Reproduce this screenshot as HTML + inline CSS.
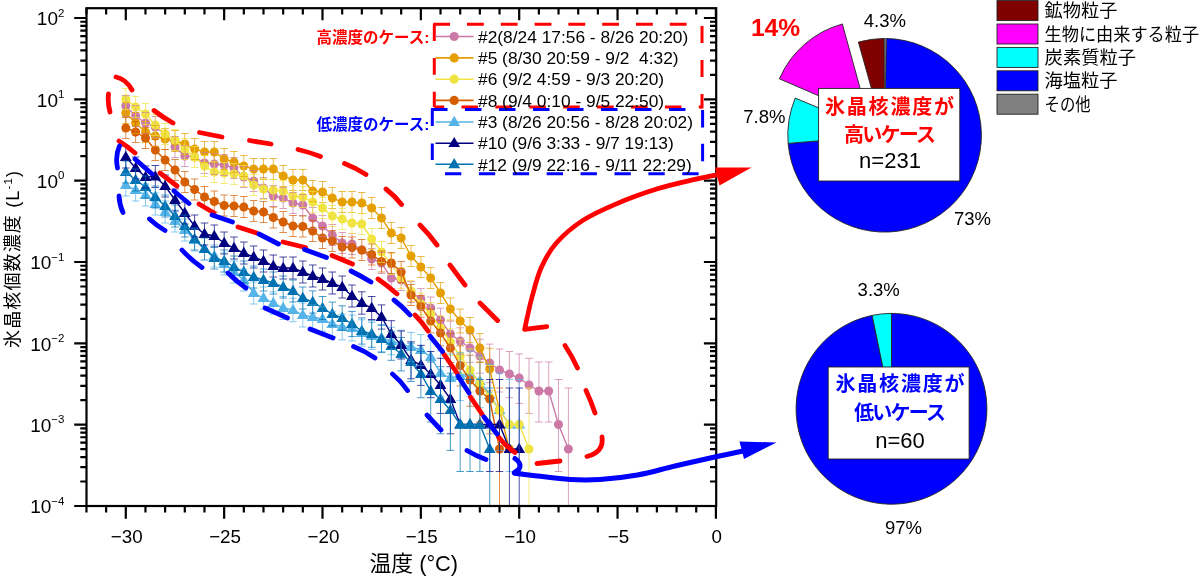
<!DOCTYPE html>
<html lang="ja"><head><meta charset="utf-8"><title>氷晶核個数濃度</title>
<style>html,body{margin:0;padding:0;background:#fff;}svg{display:block;}text{font-family:"Liberation Sans","Noto Sans CJK JP",sans-serif;}</style></head><body>
<svg width="1200" height="576" viewBox="0 0 1200 576">
<rect x="0" y="0" width="1200" height="576" fill="#ffffff"/>
<defs><clipPath id="pc"><rect x="86.5" y="8.2" width="629.7" height="497.8"/></clipPath></defs>
<g clip-path="url(#pc)">
<polyline points="125.8,185.0 135.6,190.0 145.5,195.0 155.3,204.0 165.1,212.0 175.0,221.0 184.8,230.0 194.6,240.0 204.5,249.0 214.3,256.0 224.2,264.0 234.0,272.0 243.8,280.0 253.7,293.0 263.5,298.0 273.3,303.0 283.2,308.0 293.0,310.0 302.8,315.0 312.7,317.0 322.5,319.0 332.3,324.0 342.2,327.0 352.0,328.0 361.8,333.0 371.7,336.0 381.5,338.0 391.3,341.0 401.2,344.0 411.0,347.0 420.9,350.0 430.7,357.0 440.5,373.0 450.4,378.0 460.2,376.0 470.0,373.0 479.9,381.0 489.7,395.0 499.5,410.2 509.4,424.5 519.2,424.5" fill="none" stroke="#56B4E9" stroke-width="1.4"/>
<g fill="#56B4E9"><path d="M125.8 178.8l5.9 10.1h-11.8z"/><path d="M135.6 183.8l5.9 10.1h-11.8z"/><path d="M145.5 188.8l5.9 10.1h-11.8z"/><path d="M155.3 197.8l5.9 10.1h-11.8z"/><path d="M165.1 205.8l5.9 10.1h-11.8z"/><path d="M175.0 214.8l5.9 10.1h-11.8z"/><path d="M184.8 223.8l5.9 10.1h-11.8z"/><path d="M194.6 233.8l5.9 10.1h-11.8z"/><path d="M204.5 242.8l5.9 10.1h-11.8z"/><path d="M214.3 249.8l5.9 10.1h-11.8z"/><path d="M224.2 257.8l5.9 10.1h-11.8z"/><path d="M234.0 265.8l5.9 10.1h-11.8z"/><path d="M243.8 273.8l5.9 10.1h-11.8z"/><path d="M253.7 286.8l5.9 10.1h-11.8z"/><path d="M263.5 291.8l5.9 10.1h-11.8z"/><path d="M273.3 296.8l5.9 10.1h-11.8z"/><path d="M283.2 301.8l5.9 10.1h-11.8z"/><path d="M293.0 303.8l5.9 10.1h-11.8z"/><path d="M302.8 308.8l5.9 10.1h-11.8z"/><path d="M312.7 310.8l5.9 10.1h-11.8z"/><path d="M322.5 312.8l5.9 10.1h-11.8z"/><path d="M332.3 317.8l5.9 10.1h-11.8z"/><path d="M342.2 320.8l5.9 10.1h-11.8z"/><path d="M352.0 321.8l5.9 10.1h-11.8z"/><path d="M361.8 326.8l5.9 10.1h-11.8z"/><path d="M371.7 329.8l5.9 10.1h-11.8z"/><path d="M381.5 331.8l5.9 10.1h-11.8z"/><path d="M391.3 334.8l5.9 10.1h-11.8z"/><path d="M401.2 337.8l5.9 10.1h-11.8z"/><path d="M411.0 340.8l5.9 10.1h-11.8z"/><path d="M420.9 343.8l5.9 10.1h-11.8z"/><path d="M430.7 350.8l5.9 10.1h-11.8z"/><path d="M440.5 366.8l5.9 10.1h-11.8z"/><path d="M450.4 371.8l5.9 10.1h-11.8z"/><path d="M460.2 369.8l5.9 10.1h-11.8z"/><path d="M470.0 366.8l5.9 10.1h-11.8z"/><path d="M479.9 374.8l5.9 10.1h-11.8z"/><path d="M489.7 388.8l5.9 10.1h-11.8z"/><path d="M499.5 404.0l5.9 10.1h-11.8z"/><path d="M509.4 418.3l5.9 10.1h-11.8z"/><path d="M519.2 418.3l5.9 10.1h-11.8z"/></g>
<polyline points="125.8,106.0 135.6,116.0 145.5,123.0 155.3,127.0 165.1,134.0 175.0,147.0 184.8,156.0 194.6,157.0 204.5,163.0 214.3,164.0 224.2,165.0 234.0,168.0 243.8,177.0 253.7,181.0 263.5,188.0 273.3,196.0 283.2,198.0 293.0,203.0 302.8,205.0 312.7,218.0 322.5,226.0 332.3,235.0 342.2,243.0 352.0,244.0 361.8,250.0 371.7,259.0 381.5,263.0 391.3,278.0 401.2,280.0 411.0,292.0 420.9,299.0 430.7,308.0 440.5,320.0 450.4,334.0 460.2,341.0 470.0,348.0 479.9,356.0 489.7,363.0 499.5,370.0 509.4,374.0 519.2,378.0 529.0,385.0 538.9,391.0 548.7,391.0 558.5,424.5 568.4,449.0" fill="none" stroke="#CC79A7" stroke-width="1.4"/>
<g fill="#CC79A7"><circle cx="125.8" cy="106.0" r="4.5"/><circle cx="135.6" cy="116.0" r="4.5"/><circle cx="145.5" cy="123.0" r="4.5"/><circle cx="155.3" cy="127.0" r="4.5"/><circle cx="165.1" cy="134.0" r="4.5"/><circle cx="175.0" cy="147.0" r="4.5"/><circle cx="184.8" cy="156.0" r="4.5"/><circle cx="194.6" cy="157.0" r="4.5"/><circle cx="204.5" cy="163.0" r="4.5"/><circle cx="214.3" cy="164.0" r="4.5"/><circle cx="224.2" cy="165.0" r="4.5"/><circle cx="234.0" cy="168.0" r="4.5"/><circle cx="243.8" cy="177.0" r="4.5"/><circle cx="253.7" cy="181.0" r="4.5"/><circle cx="263.5" cy="188.0" r="4.5"/><circle cx="273.3" cy="196.0" r="4.5"/><circle cx="283.2" cy="198.0" r="4.5"/><circle cx="293.0" cy="203.0" r="4.5"/><circle cx="302.8" cy="205.0" r="4.5"/><circle cx="312.7" cy="218.0" r="4.5"/><circle cx="322.5" cy="226.0" r="4.5"/><circle cx="332.3" cy="235.0" r="4.5"/><circle cx="342.2" cy="243.0" r="4.5"/><circle cx="352.0" cy="244.0" r="4.5"/><circle cx="361.8" cy="250.0" r="4.5"/><circle cx="371.7" cy="259.0" r="4.5"/><circle cx="381.5" cy="263.0" r="4.5"/><circle cx="391.3" cy="278.0" r="4.5"/><circle cx="401.2" cy="280.0" r="4.5"/><circle cx="411.0" cy="292.0" r="4.5"/><circle cx="420.9" cy="299.0" r="4.5"/><circle cx="430.7" cy="308.0" r="4.5"/><circle cx="440.5" cy="320.0" r="4.5"/><circle cx="450.4" cy="334.0" r="4.5"/><circle cx="460.2" cy="341.0" r="4.5"/><circle cx="470.0" cy="348.0" r="4.5"/><circle cx="479.9" cy="356.0" r="4.5"/><circle cx="489.7" cy="363.0" r="4.5"/><circle cx="499.5" cy="370.0" r="4.5"/><circle cx="509.4" cy="374.0" r="4.5"/><circle cx="519.2" cy="378.0" r="4.5"/><circle cx="529.0" cy="385.0" r="4.5"/><circle cx="538.9" cy="391.0" r="4.5"/><circle cx="548.7" cy="391.0" r="4.5"/><circle cx="558.5" cy="424.5" r="4.5"/><circle cx="568.4" cy="449.0" r="4.5"/></g>
<polyline points="125.8,113.0 135.6,123.0 145.5,132.0 155.3,136.0 165.1,139.0 175.0,141.0 184.8,144.0 194.6,149.0 204.5,152.0 214.3,152.0 224.2,159.0 234.0,162.0 243.8,166.0 253.7,169.0 263.5,169.0 273.3,169.0 283.2,176.0 293.0,180.0 302.8,180.0 312.7,191.0 322.5,192.0 332.3,198.0 342.2,202.0 352.0,202.0 361.8,203.0 371.7,208.0 381.5,218.0 391.3,233.0 401.2,238.0 411.0,256.0 420.9,267.0 430.7,278.0 440.5,293.0 450.4,309.0 460.2,321.0 470.0,330.0 479.9,348.0 489.7,369.0 499.5,410.2 509.4,449.0" fill="none" stroke="#E69F00" stroke-width="1.4"/>
<g fill="#E69F00"><circle cx="125.8" cy="113.0" r="4.5"/><circle cx="135.6" cy="123.0" r="4.5"/><circle cx="145.5" cy="132.0" r="4.5"/><circle cx="155.3" cy="136.0" r="4.5"/><circle cx="165.1" cy="139.0" r="4.5"/><circle cx="175.0" cy="141.0" r="4.5"/><circle cx="184.8" cy="144.0" r="4.5"/><circle cx="194.6" cy="149.0" r="4.5"/><circle cx="204.5" cy="152.0" r="4.5"/><circle cx="214.3" cy="152.0" r="4.5"/><circle cx="224.2" cy="159.0" r="4.5"/><circle cx="234.0" cy="162.0" r="4.5"/><circle cx="243.8" cy="166.0" r="4.5"/><circle cx="253.7" cy="169.0" r="4.5"/><circle cx="263.5" cy="169.0" r="4.5"/><circle cx="273.3" cy="169.0" r="4.5"/><circle cx="283.2" cy="176.0" r="4.5"/><circle cx="293.0" cy="180.0" r="4.5"/><circle cx="302.8" cy="180.0" r="4.5"/><circle cx="312.7" cy="191.0" r="4.5"/><circle cx="322.5" cy="192.0" r="4.5"/><circle cx="332.3" cy="198.0" r="4.5"/><circle cx="342.2" cy="202.0" r="4.5"/><circle cx="352.0" cy="202.0" r="4.5"/><circle cx="361.8" cy="203.0" r="4.5"/><circle cx="371.7" cy="208.0" r="4.5"/><circle cx="381.5" cy="218.0" r="4.5"/><circle cx="391.3" cy="233.0" r="4.5"/><circle cx="401.2" cy="238.0" r="4.5"/><circle cx="411.0" cy="256.0" r="4.5"/><circle cx="420.9" cy="267.0" r="4.5"/><circle cx="430.7" cy="278.0" r="4.5"/><circle cx="440.5" cy="293.0" r="4.5"/><circle cx="450.4" cy="309.0" r="4.5"/><circle cx="460.2" cy="321.0" r="4.5"/><circle cx="470.0" cy="330.0" r="4.5"/><circle cx="479.9" cy="348.0" r="4.5"/><circle cx="489.7" cy="369.0" r="4.5"/><circle cx="499.5" cy="410.2" r="4.5"/><circle cx="509.4" cy="449.0" r="4.5"/></g>
<polyline points="125.8,99.0 135.6,107.0 145.5,114.0 155.3,125.0 165.1,134.0 175.0,140.0 184.8,149.0 194.6,157.0 204.5,166.0 214.3,172.0 224.2,173.0 234.0,174.0 243.8,176.0 253.7,185.0 263.5,189.0 273.3,190.0 283.2,191.0 293.0,196.0 302.8,197.0 312.7,202.0 322.5,208.0 332.3,216.0 342.2,219.0 352.0,223.0 361.8,224.0 371.7,239.0 381.5,252.0 391.3,264.0 401.2,278.0 411.0,291.0 420.9,304.0 430.7,314.0 440.5,328.0 450.4,342.0 460.2,356.0 470.0,370.0 479.9,384.0 489.7,397.0 499.5,410.2 509.4,424.5 519.2,424.5 529.0,449.0" fill="none" stroke="#F0E442" stroke-width="1.4"/>
<g fill="#F0E442"><circle cx="125.8" cy="99.0" r="4.5"/><circle cx="135.6" cy="107.0" r="4.5"/><circle cx="145.5" cy="114.0" r="4.5"/><circle cx="155.3" cy="125.0" r="4.5"/><circle cx="165.1" cy="134.0" r="4.5"/><circle cx="175.0" cy="140.0" r="4.5"/><circle cx="184.8" cy="149.0" r="4.5"/><circle cx="194.6" cy="157.0" r="4.5"/><circle cx="204.5" cy="166.0" r="4.5"/><circle cx="214.3" cy="172.0" r="4.5"/><circle cx="224.2" cy="173.0" r="4.5"/><circle cx="234.0" cy="174.0" r="4.5"/><circle cx="243.8" cy="176.0" r="4.5"/><circle cx="253.7" cy="185.0" r="4.5"/><circle cx="263.5" cy="189.0" r="4.5"/><circle cx="273.3" cy="190.0" r="4.5"/><circle cx="283.2" cy="191.0" r="4.5"/><circle cx="293.0" cy="196.0" r="4.5"/><circle cx="302.8" cy="197.0" r="4.5"/><circle cx="312.7" cy="202.0" r="4.5"/><circle cx="322.5" cy="208.0" r="4.5"/><circle cx="332.3" cy="216.0" r="4.5"/><circle cx="342.2" cy="219.0" r="4.5"/><circle cx="352.0" cy="223.0" r="4.5"/><circle cx="361.8" cy="224.0" r="4.5"/><circle cx="371.7" cy="239.0" r="4.5"/><circle cx="381.5" cy="252.0" r="4.5"/><circle cx="391.3" cy="264.0" r="4.5"/><circle cx="401.2" cy="278.0" r="4.5"/><circle cx="411.0" cy="291.0" r="4.5"/><circle cx="420.9" cy="304.0" r="4.5"/><circle cx="430.7" cy="314.0" r="4.5"/><circle cx="440.5" cy="328.0" r="4.5"/><circle cx="450.4" cy="342.0" r="4.5"/><circle cx="460.2" cy="356.0" r="4.5"/><circle cx="470.0" cy="370.0" r="4.5"/><circle cx="479.9" cy="384.0" r="4.5"/><circle cx="489.7" cy="397.0" r="4.5"/><circle cx="499.5" cy="410.2" r="4.5"/><circle cx="509.4" cy="424.5" r="4.5"/><circle cx="519.2" cy="424.5" r="4.5"/><circle cx="529.0" cy="449.0" r="4.5"/></g>
<polyline points="125.8,128.0 135.6,132.0 145.5,138.0 155.3,150.0 165.1,160.0 175.0,170.0 184.8,182.0 194.6,189.5 204.5,197.0 214.3,201.5 224.2,205.5 234.0,206.0 243.8,207.0 253.7,211.0 263.5,212.0 273.3,217.5 283.2,222.0 293.0,226.0 302.8,226.5 312.7,231.0 322.5,238.0 332.3,241.0 342.2,247.0 352.0,247.5 361.8,250.0 371.7,254.5 381.5,261.5 391.3,263.0 401.2,272.0 411.0,295.0 420.9,306.5 430.7,321.0 440.5,333.0 450.4,348.0 460.2,365.5 470.0,380.0 479.9,391.0 489.7,399.0 499.5,449.0" fill="none" stroke="#D55E00" stroke-width="1.4"/>
<g fill="#D55E00"><circle cx="125.8" cy="128.0" r="4.5"/><circle cx="135.6" cy="132.0" r="4.5"/><circle cx="145.5" cy="138.0" r="4.5"/><circle cx="155.3" cy="150.0" r="4.5"/><circle cx="165.1" cy="160.0" r="4.5"/><circle cx="175.0" cy="170.0" r="4.5"/><circle cx="184.8" cy="182.0" r="4.5"/><circle cx="194.6" cy="189.5" r="4.5"/><circle cx="204.5" cy="197.0" r="4.5"/><circle cx="214.3" cy="201.5" r="4.5"/><circle cx="224.2" cy="205.5" r="4.5"/><circle cx="234.0" cy="206.0" r="4.5"/><circle cx="243.8" cy="207.0" r="4.5"/><circle cx="253.7" cy="211.0" r="4.5"/><circle cx="263.5" cy="212.0" r="4.5"/><circle cx="273.3" cy="217.5" r="4.5"/><circle cx="283.2" cy="222.0" r="4.5"/><circle cx="293.0" cy="226.0" r="4.5"/><circle cx="302.8" cy="226.5" r="4.5"/><circle cx="312.7" cy="231.0" r="4.5"/><circle cx="322.5" cy="238.0" r="4.5"/><circle cx="332.3" cy="241.0" r="4.5"/><circle cx="342.2" cy="247.0" r="4.5"/><circle cx="352.0" cy="247.5" r="4.5"/><circle cx="361.8" cy="250.0" r="4.5"/><circle cx="371.7" cy="254.5" r="4.5"/><circle cx="381.5" cy="261.5" r="4.5"/><circle cx="391.3" cy="263.0" r="4.5"/><circle cx="401.2" cy="272.0" r="4.5"/><circle cx="411.0" cy="295.0" r="4.5"/><circle cx="420.9" cy="306.5" r="4.5"/><circle cx="430.7" cy="321.0" r="4.5"/><circle cx="440.5" cy="333.0" r="4.5"/><circle cx="450.4" cy="348.0" r="4.5"/><circle cx="460.2" cy="365.5" r="4.5"/><circle cx="470.0" cy="380.0" r="4.5"/><circle cx="479.9" cy="391.0" r="4.5"/><circle cx="489.7" cy="399.0" r="4.5"/><circle cx="499.5" cy="449.0" r="4.5"/></g>
<polyline points="125.8,157.0 135.6,168.0 145.5,177.0 155.3,176.5 165.1,186.0 175.0,200.0 184.8,213.0 194.6,226.0 204.5,234.0 214.3,236.0 224.2,243.0 234.0,248.0 243.8,253.0 253.7,257.0 263.5,261.0 273.3,266.0 283.2,268.0 293.0,268.0 302.8,272.0 312.7,276.0 322.5,279.0 332.3,283.0 342.2,287.0 352.0,296.0 361.8,303.0 371.7,308.0 381.5,317.0 391.3,334.0 401.2,345.0 411.0,360.0 420.9,365.0 430.7,374.0 440.5,385.0 450.4,399.0 460.2,424.5 470.0,424.5 479.9,424.5 489.7,424.5 499.5,424.5 509.4,449.0 519.2,449.0" fill="none" stroke="#000080" stroke-width="1.4"/>
<g fill="#000080"><path d="M125.8 150.8l5.9 10.1h-11.8z"/><path d="M135.6 161.8l5.9 10.1h-11.8z"/><path d="M145.5 170.8l5.9 10.1h-11.8z"/><path d="M155.3 170.3l5.9 10.1h-11.8z"/><path d="M165.1 179.8l5.9 10.1h-11.8z"/><path d="M175.0 193.8l5.9 10.1h-11.8z"/><path d="M184.8 206.8l5.9 10.1h-11.8z"/><path d="M194.6 219.8l5.9 10.1h-11.8z"/><path d="M204.5 227.8l5.9 10.1h-11.8z"/><path d="M214.3 229.8l5.9 10.1h-11.8z"/><path d="M224.2 236.8l5.9 10.1h-11.8z"/><path d="M234.0 241.8l5.9 10.1h-11.8z"/><path d="M243.8 246.8l5.9 10.1h-11.8z"/><path d="M253.7 250.8l5.9 10.1h-11.8z"/><path d="M263.5 254.8l5.9 10.1h-11.8z"/><path d="M273.3 259.8l5.9 10.1h-11.8z"/><path d="M283.2 261.8l5.9 10.1h-11.8z"/><path d="M293.0 261.8l5.9 10.1h-11.8z"/><path d="M302.8 265.8l5.9 10.1h-11.8z"/><path d="M312.7 269.8l5.9 10.1h-11.8z"/><path d="M322.5 272.8l5.9 10.1h-11.8z"/><path d="M332.3 276.8l5.9 10.1h-11.8z"/><path d="M342.2 280.8l5.9 10.1h-11.8z"/><path d="M352.0 289.8l5.9 10.1h-11.8z"/><path d="M361.8 296.8l5.9 10.1h-11.8z"/><path d="M371.7 301.8l5.9 10.1h-11.8z"/><path d="M381.5 310.8l5.9 10.1h-11.8z"/><path d="M391.3 327.8l5.9 10.1h-11.8z"/><path d="M401.2 338.8l5.9 10.1h-11.8z"/><path d="M411.0 353.8l5.9 10.1h-11.8z"/><path d="M420.9 358.8l5.9 10.1h-11.8z"/><path d="M430.7 367.8l5.9 10.1h-11.8z"/><path d="M440.5 378.8l5.9 10.1h-11.8z"/><path d="M450.4 392.8l5.9 10.1h-11.8z"/><path d="M460.2 418.3l5.9 10.1h-11.8z"/><path d="M470.0 418.3l5.9 10.1h-11.8z"/><path d="M479.9 418.3l5.9 10.1h-11.8z"/><path d="M489.7 418.3l5.9 10.1h-11.8z"/><path d="M499.5 418.3l5.9 10.1h-11.8z"/><path d="M509.4 442.8l5.9 10.1h-11.8z"/><path d="M519.2 442.8l5.9 10.1h-11.8z"/></g>
<polyline points="125.8,172.0 135.6,180.0 145.5,187.0 155.3,197.0 165.1,206.0 175.0,216.0 184.8,226.0 194.6,239.0 204.5,249.0 214.3,258.0 224.2,261.0 234.0,267.0 243.8,272.0 253.7,277.0 263.5,280.0 273.3,283.0 283.2,287.0 293.0,291.0 302.8,298.0 312.7,302.0 322.5,308.0 332.3,314.0 342.2,318.0 352.0,324.0 361.8,331.0 371.7,334.0 381.5,339.0 391.3,346.0 401.2,354.0 411.0,362.0 420.9,374.0 430.7,391.0 440.5,399.0 450.4,410.2 460.2,424.5 470.0,424.5 479.9,424.5 489.7,449.0" fill="none" stroke="#0072B2" stroke-width="1.4"/>
<g fill="#0072B2"><path d="M125.8 165.8l5.9 10.1h-11.8z"/><path d="M135.6 173.8l5.9 10.1h-11.8z"/><path d="M145.5 180.8l5.9 10.1h-11.8z"/><path d="M155.3 190.8l5.9 10.1h-11.8z"/><path d="M165.1 199.8l5.9 10.1h-11.8z"/><path d="M175.0 209.8l5.9 10.1h-11.8z"/><path d="M184.8 219.8l5.9 10.1h-11.8z"/><path d="M194.6 232.8l5.9 10.1h-11.8z"/><path d="M204.5 242.8l5.9 10.1h-11.8z"/><path d="M214.3 251.8l5.9 10.1h-11.8z"/><path d="M224.2 254.8l5.9 10.1h-11.8z"/><path d="M234.0 260.8l5.9 10.1h-11.8z"/><path d="M243.8 265.8l5.9 10.1h-11.8z"/><path d="M253.7 270.8l5.9 10.1h-11.8z"/><path d="M263.5 273.8l5.9 10.1h-11.8z"/><path d="M273.3 276.8l5.9 10.1h-11.8z"/><path d="M283.2 280.8l5.9 10.1h-11.8z"/><path d="M293.0 284.8l5.9 10.1h-11.8z"/><path d="M302.8 291.8l5.9 10.1h-11.8z"/><path d="M312.7 295.8l5.9 10.1h-11.8z"/><path d="M322.5 301.8l5.9 10.1h-11.8z"/><path d="M332.3 307.8l5.9 10.1h-11.8z"/><path d="M342.2 311.8l5.9 10.1h-11.8z"/><path d="M352.0 317.8l5.9 10.1h-11.8z"/><path d="M361.8 324.8l5.9 10.1h-11.8z"/><path d="M371.7 327.8l5.9 10.1h-11.8z"/><path d="M381.5 332.8l5.9 10.1h-11.8z"/><path d="M391.3 339.8l5.9 10.1h-11.8z"/><path d="M401.2 347.8l5.9 10.1h-11.8z"/><path d="M411.0 355.8l5.9 10.1h-11.8z"/><path d="M420.9 367.8l5.9 10.1h-11.8z"/><path d="M430.7 384.8l5.9 10.1h-11.8z"/><path d="M440.5 392.8l5.9 10.1h-11.8z"/><path d="M450.4 404.0l5.9 10.1h-11.8z"/><path d="M460.2 418.3l5.9 10.1h-11.8z"/><path d="M470.0 418.3l5.9 10.1h-11.8z"/><path d="M479.9 418.3l5.9 10.1h-11.8z"/><path d="M489.7 442.8l5.9 10.1h-11.8z"/></g>
<path d="M125.8 95.5V116.5M122.0 95.5h7.6M122.0 116.5h7.6M135.6 105.5V126.5M131.8 105.5h7.6M131.8 126.5h7.6M145.5 112.5V133.5M141.7 112.5h7.6M141.7 133.5h7.6M155.3 116.5V137.5M151.5 116.5h7.6M151.5 137.5h7.6M175.0 136.5V157.5M171.2 136.5h7.6M171.2 157.5h7.6M184.8 145.5V166.5M181.0 145.5h7.6M181.0 166.5h7.6M204.5 152.5V173.5M200.7 152.5h7.6M200.7 173.5h7.6M214.3 153.5V174.5M210.5 153.5h7.6M210.5 174.5h7.6M224.2 154.5V175.5M220.3 154.5h7.6M220.3 175.5h7.6M234.0 157.5V178.5M230.2 157.5h7.6M230.2 178.5h7.6M243.8 166.5V187.5M240.0 166.5h7.6M240.0 187.5h7.6M253.7 170.5V191.5M249.9 170.5h7.6M249.9 191.5h7.6M263.5 177.5V198.5M259.7 177.5h7.6M259.7 198.5h7.6M273.3 185.5V206.5M269.5 185.5h7.6M269.5 206.5h7.6M283.2 187.5V208.5M279.4 187.5h7.6M279.4 208.5h7.6M293.0 192.5V213.5M289.2 192.5h7.6M289.2 213.5h7.6M302.8 194.5V215.5M299.0 194.5h7.6M299.0 215.5h7.6M312.7 207.5V228.5M308.9 207.5h7.6M308.9 228.5h7.6M322.5 215.5V236.5M318.7 215.5h7.6M318.7 236.5h7.6M332.3 224.5V245.5M328.5 224.5h7.6M328.5 245.5h7.6M342.2 232.5V253.5M338.4 232.5h7.6M338.4 253.5h7.6M352.0 233.5V254.5M348.2 233.5h7.6M348.2 254.5h7.6M371.7 248.5V269.5M367.9 248.5h7.6M367.9 269.5h7.6M381.5 252.5V273.5M377.7 252.5h7.6M377.7 273.5h7.6M391.3 267.5V288.5M387.5 267.5h7.6M387.5 288.5h7.6M401.2 269.5V290.5M397.4 269.5h7.6M397.4 290.5h7.6M411.0 281.5V302.5M407.2 281.5h7.6M407.2 302.5h7.6M420.9 288.5V309.5M417.1 288.5h7.6M417.1 309.5h7.6M430.7 297.0V319.0M426.9 297.0h7.6M426.9 319.0h7.6M440.5 308.2V331.8M436.7 308.2h7.6M436.7 331.8h7.6M450.4 321.2V346.8M446.6 321.2h7.6M446.6 346.8h7.6M460.2 327.8V354.2M456.4 327.8h7.6M456.4 354.2h7.6M470.0 333.6V362.5M466.2 333.6h7.6M466.2 362.5h7.6M479.9 339.2V373.2M476.1 339.2h7.6M476.1 373.2h7.6M489.7 344.1V382.6M485.9 344.1h7.6M485.9 382.6h7.6M499.5 349.0V392.0M495.7 349.0h7.6M495.7 392.0h7.6M509.4 351.5V397.7M505.6 351.5h7.6M505.6 397.7h7.6M519.2 354.0V403.4M515.4 354.0h7.6M515.4 403.4h7.6M529.0 358.3V413.4M525.2 358.3h7.6M525.2 413.4h7.6M538.9 362.0V422.0M535.1 362.0h7.6M535.1 422.0h7.6M548.7 362.0V422.0M544.9 362.0h7.6M544.9 422.0h7.6M558.5 379.5V471.5M554.7 379.5h7.6M554.7 471.5h7.6M568.4 388.0V506.0M564.6 388.0h7.6" fill="none" stroke="#CC79A7" stroke-width="1" stroke-opacity="0.7"/>
<path d="M125.8 102.5V123.5M122.0 102.5h7.6M122.0 123.5h7.6M135.6 112.5V133.5M131.8 112.5h7.6M131.8 133.5h7.6M145.5 121.5V142.5M141.7 121.5h7.6M141.7 142.5h7.6M155.3 125.5V146.5M151.5 125.5h7.6M151.5 146.5h7.6M165.1 128.5V149.5M161.3 128.5h7.6M161.3 149.5h7.6M175.0 130.5V151.5M171.2 130.5h7.6M171.2 151.5h7.6M184.8 133.5V154.5M181.0 133.5h7.6M181.0 154.5h7.6M194.6 138.5V159.5M190.8 138.5h7.6M190.8 159.5h7.6M204.5 141.5V162.5M200.7 141.5h7.6M200.7 162.5h7.6M214.3 141.5V162.5M210.5 141.5h7.6M210.5 162.5h7.6M224.2 148.5V169.5M220.3 148.5h7.6M220.3 169.5h7.6M234.0 151.5V172.5M230.2 151.5h7.6M230.2 172.5h7.6M243.8 155.5V176.5M240.0 155.5h7.6M240.0 176.5h7.6M253.7 158.5V179.5M249.9 158.5h7.6M249.9 179.5h7.6M263.5 158.5V179.5M259.7 158.5h7.6M259.7 179.5h7.6M273.3 158.5V179.5M269.5 158.5h7.6M269.5 179.5h7.6M283.2 165.5V186.5M279.4 165.5h7.6M279.4 186.5h7.6M293.0 169.5V190.5M289.2 169.5h7.6M289.2 190.5h7.6M302.8 169.5V190.5M299.0 169.5h7.6M299.0 190.5h7.6M312.7 180.5V201.5M308.9 180.5h7.6M308.9 201.5h7.6M322.5 181.5V202.5M318.7 181.5h7.6M318.7 202.5h7.6M332.3 187.5V208.5M328.5 187.5h7.6M328.5 208.5h7.6M342.2 191.5V212.5M338.4 191.5h7.6M338.4 212.5h7.6M352.0 191.5V212.5M348.2 191.5h7.6M348.2 212.5h7.6M361.8 192.5V213.5M358.0 192.5h7.6M358.0 213.5h7.6M371.7 197.5V218.5M367.9 197.5h7.6M367.9 218.5h7.6M381.5 207.5V228.5M377.7 207.5h7.6M377.7 228.5h7.6M391.3 222.5V243.5M387.5 222.5h7.6M387.5 243.5h7.6M401.2 227.5V248.5M397.4 227.5h7.6M397.4 248.5h7.6M411.0 245.5V266.5M407.2 245.5h7.6M407.2 266.5h7.6M420.9 256.5V277.5M417.1 256.5h7.6M417.1 277.5h7.6M430.7 267.5V288.5M426.9 267.5h7.6M426.9 288.5h7.6M440.5 282.5V303.5M436.7 282.5h7.6M436.7 303.5h7.6M450.4 297.9V320.1M446.6 297.9h7.6M446.6 320.1h7.6M460.2 309.1V332.9M456.4 309.1h7.6M456.4 332.9h7.6M470.0 317.5V342.5M466.2 317.5h7.6M466.2 342.5h7.6M479.9 333.6V362.5M476.1 333.6h7.6M476.1 362.5h7.6M489.7 348.3V390.7M485.9 348.3h7.6M485.9 390.7h7.6" fill="none" stroke="#E69F00" stroke-width="1" stroke-opacity="0.7"/>
<path d="M125.8 88.5V109.5M122.0 88.5h7.6M122.0 109.5h7.6M135.6 96.5V117.5M131.8 96.5h7.6M131.8 117.5h7.6M145.5 103.5V124.5M141.7 103.5h7.6M141.7 124.5h7.6M155.3 114.5V135.5M151.5 114.5h7.6M151.5 135.5h7.6M165.1 123.5V144.5M161.3 123.5h7.6M161.3 144.5h7.6M175.0 129.5V150.5M171.2 129.5h7.6M171.2 150.5h7.6M184.8 138.5V159.5M181.0 138.5h7.6M181.0 159.5h7.6M194.6 146.5V167.5M190.8 146.5h7.6M190.8 167.5h7.6M204.5 155.5V176.5M200.7 155.5h7.6M200.7 176.5h7.6M214.3 161.5V182.5M210.5 161.5h7.6M210.5 182.5h7.6M224.2 162.5V183.5M220.3 162.5h7.6M220.3 183.5h7.6M234.0 163.5V184.5M230.2 163.5h7.6M230.2 184.5h7.6M243.8 165.5V186.5M240.0 165.5h7.6M240.0 186.5h7.6M253.7 174.5V195.5M249.9 174.5h7.6M249.9 195.5h7.6M263.5 178.5V199.5M259.7 178.5h7.6M259.7 199.5h7.6M273.3 179.5V200.5M269.5 179.5h7.6M269.5 200.5h7.6M283.2 180.5V201.5M279.4 180.5h7.6M279.4 201.5h7.6M293.0 185.5V206.5M289.2 185.5h7.6M289.2 206.5h7.6M302.8 186.5V207.5M299.0 186.5h7.6M299.0 207.5h7.6M312.7 191.5V212.5M308.9 191.5h7.6M308.9 212.5h7.6M322.5 197.5V218.5M318.7 197.5h7.6M318.7 218.5h7.6M332.3 205.5V226.5M328.5 205.5h7.6M328.5 226.5h7.6M342.2 208.5V229.5M338.4 208.5h7.6M338.4 229.5h7.6M352.0 212.5V233.5M348.2 212.5h7.6M348.2 233.5h7.6M361.8 213.5V234.5M358.0 213.5h7.6M358.0 234.5h7.6M371.7 228.5V249.5M367.9 228.5h7.6M367.9 249.5h7.6M381.5 241.5V262.5M377.7 241.5h7.6M377.7 262.5h7.6M391.3 253.5V274.5M387.5 253.5h7.6M387.5 274.5h7.6M401.2 267.5V288.5M397.4 267.5h7.6M397.4 288.5h7.6M411.0 280.5V301.5M407.2 280.5h7.6M407.2 301.5h7.6M420.9 293.2V314.8M417.1 293.2h7.6M417.1 314.8h7.6M430.7 302.6V325.4M426.9 302.6h7.6M426.9 325.4h7.6M440.5 315.6V340.4M436.7 315.6h7.6M436.7 340.4h7.6M450.4 328.7V355.3M446.6 328.7h7.6M446.6 355.3h7.6M460.2 339.2V373.2M456.4 339.2h7.6M456.4 373.2h7.6M470.0 349.0V392.0M466.2 349.0h7.6M466.2 392.0h7.6M479.9 357.7V412.0M476.1 357.7h7.6M476.1 412.0h7.6M489.7 365.5V430.9M485.9 365.5h7.6M485.9 430.9h7.6M529.0 388.0V506.0M525.2 388.0h7.6" fill="none" stroke="#F0E442" stroke-width="1" stroke-opacity="0.7"/>
<path d="M125.8 117.5V138.5M122.0 117.5h7.6M122.0 138.5h7.6M135.6 121.5V142.5M131.8 121.5h7.6M131.8 142.5h7.6M145.5 127.5V148.5M141.7 127.5h7.6M141.7 148.5h7.6M155.3 139.5V160.5M151.5 139.5h7.6M151.5 160.5h7.6M165.1 149.5V170.5M161.3 149.5h7.6M161.3 170.5h7.6M175.0 159.5V180.5M171.2 159.5h7.6M171.2 180.5h7.6M184.8 171.5V192.5M181.0 171.5h7.6M181.0 192.5h7.6M194.6 179.0V200.0M190.8 179.0h7.6M190.8 200.0h7.6M204.5 186.5V207.5M200.7 186.5h7.6M200.7 207.5h7.6M214.3 191.0V212.0M210.5 191.0h7.6M210.5 212.0h7.6M224.2 195.0V216.0M220.3 195.0h7.6M220.3 216.0h7.6M234.0 195.5V216.5M230.2 195.5h7.6M230.2 216.5h7.6M243.8 196.5V217.5M240.0 196.5h7.6M240.0 217.5h7.6M253.7 200.5V221.5M249.9 200.5h7.6M249.9 221.5h7.6M263.5 201.5V222.5M259.7 201.5h7.6M259.7 222.5h7.6M273.3 207.0V228.0M269.5 207.0h7.6M269.5 228.0h7.6M283.2 211.5V232.5M279.4 211.5h7.6M279.4 232.5h7.6M293.0 215.5V236.5M289.2 215.5h7.6M289.2 236.5h7.6M302.8 216.0V237.0M299.0 216.0h7.6M299.0 237.0h7.6M312.7 220.5V241.5M308.9 220.5h7.6M308.9 241.5h7.6M322.5 227.5V248.5M318.7 227.5h7.6M318.7 248.5h7.6M332.3 230.5V251.5M328.5 230.5h7.6M328.5 251.5h7.6M342.2 236.5V257.5M338.4 236.5h7.6M338.4 257.5h7.6M352.0 237.0V258.0M348.2 237.0h7.6M348.2 258.0h7.6M361.8 239.5V260.5M358.0 239.5h7.6M358.0 260.5h7.6M371.7 244.0V265.0M367.9 244.0h7.6M367.9 265.0h7.6M381.5 251.0V272.0M377.7 251.0h7.6M377.7 272.0h7.6M391.3 252.5V273.5M387.5 252.5h7.6M387.5 273.5h7.6M401.2 261.5V282.5M397.4 261.5h7.6M397.4 282.5h7.6M411.0 284.5V305.5M407.2 284.5h7.6M407.2 305.5h7.6M420.9 295.6V317.4M417.1 295.6h7.6M417.1 317.4h7.6M430.7 309.1V332.9M426.9 309.1h7.6M426.9 332.9h7.6M440.5 320.3V345.7M436.7 320.3h7.6M436.7 345.7h7.6M450.4 333.6V362.5M446.6 333.6h7.6M446.6 362.5h7.6M460.2 345.9V386.0M456.4 345.9h7.6M456.4 386.0h7.6M470.0 355.2V406.3M466.2 355.2h7.6M466.2 406.3h7.6M479.9 362.0V422.0M476.1 362.0h7.6M476.1 422.0h7.6M489.7 366.7V433.8M485.9 366.7h7.6M485.9 433.8h7.6M499.5 388.0V506.0M495.7 388.0h7.6" fill="none" stroke="#D55E00" stroke-width="1" stroke-opacity="0.7"/>
<path d="M125.8 174.0V196.0M122.0 174.0h7.6M122.0 196.0h7.6M135.6 179.0V201.0M131.8 179.0h7.6M131.8 201.0h7.6M145.5 184.0V206.0M141.7 184.0h7.6M141.7 206.0h7.6M155.3 193.0V215.0M151.5 193.0h7.6M151.5 215.0h7.6M165.1 201.0V223.0M161.3 201.0h7.6M161.3 223.0h7.6M175.0 210.0V232.0M171.2 210.0h7.6M171.2 232.0h7.6M184.8 219.0V241.0M181.0 219.0h7.6M181.0 241.0h7.6M194.6 229.0V251.0M190.8 229.0h7.6M190.8 251.0h7.6M214.3 245.0V267.0M210.5 245.0h7.6M210.5 267.0h7.6M224.2 253.0V275.0M220.3 253.0h7.6M220.3 275.0h7.6M234.0 261.0V283.0M230.2 261.0h7.6M230.2 283.0h7.6M243.8 269.0V291.0M240.0 269.0h7.6M240.0 291.0h7.6M253.7 282.0V304.0M249.9 282.0h7.6M249.9 304.0h7.6M263.5 287.0V309.0M259.7 287.0h7.6M259.7 309.0h7.6M273.3 291.8V314.2M269.5 291.8h7.6M269.5 314.2h7.6M283.2 296.5V319.5M279.4 296.5h7.6M279.4 319.5h7.6M293.0 298.3V321.7M289.2 298.3h7.6M289.2 321.7h7.6M302.8 303.0V327.0M299.0 303.0h7.6M299.0 327.0h7.6M312.7 304.9V329.1M308.9 304.9h7.6M308.9 329.1h7.6M322.5 306.7V331.3M318.7 306.7h7.6M318.7 331.3h7.6M332.3 311.4V336.6M328.5 311.4h7.6M328.5 336.6h7.6M342.2 314.2V339.8M338.4 314.2h7.6M338.4 339.8h7.6M352.0 315.1V340.9M348.2 315.1h7.6M348.2 340.9h7.6M361.8 319.8V346.2M358.0 319.8h7.6M358.0 346.2h7.6M371.7 322.6V349.4M367.9 322.6h7.6M367.9 349.4h7.6M381.5 324.5V351.5M377.7 324.5h7.6M377.7 351.5h7.6M391.3 327.3V354.7M387.5 327.3h7.6M387.5 354.7h7.6M401.2 330.1V357.9M397.4 330.1h7.6M397.4 357.9h7.6M411.0 332.4V361.6M407.2 332.4h7.6M407.2 361.6h7.6M420.9 334.6V365.6M417.1 334.6h7.6M417.1 365.6h7.6M430.7 339.6V374.8M426.9 339.6h7.6M426.9 374.8h7.6M440.5 350.9V396.3M436.7 350.9h7.6M436.7 396.3h7.6M450.4 354.0V403.4M446.6 354.0h7.6M446.6 403.4h7.6M460.2 352.7V400.6M456.4 352.7h7.6M456.4 400.6h7.6M470.0 350.9V396.3M466.2 350.9h7.6M466.2 396.3h7.6M479.9 355.8V407.7M476.1 355.8h7.6M476.1 407.7h7.6M489.7 364.3V427.9M485.9 364.3h7.6M485.9 427.9h7.6M499.5 373.2V450.4M495.7 373.2h7.6M495.7 450.4h7.6M509.4 379.5V471.5M505.6 379.5h7.6M505.6 471.5h7.6M519.2 379.5V471.5M515.4 379.5h7.6M515.4 471.5h7.6" fill="none" stroke="#56B4E9" stroke-width="1" stroke-opacity="0.7"/>
<path d="M125.8 146.0V168.0M122.0 146.0h7.6M122.0 168.0h7.6M135.6 157.0V179.0M131.8 157.0h7.6M131.8 179.0h7.6M145.5 166.0V188.0M141.7 166.0h7.6M141.7 188.0h7.6M155.3 165.5V187.5M151.5 165.5h7.6M151.5 187.5h7.6M165.1 175.0V197.0M161.3 175.0h7.6M161.3 197.0h7.6M175.0 189.0V211.0M171.2 189.0h7.6M171.2 211.0h7.6M184.8 202.0V224.0M181.0 202.0h7.6M181.0 224.0h7.6M194.6 215.0V237.0M190.8 215.0h7.6M190.8 237.0h7.6M204.5 223.0V245.0M200.7 223.0h7.6M200.7 245.0h7.6M214.3 225.0V247.0M210.5 225.0h7.6M210.5 247.0h7.6M224.2 232.0V254.0M220.3 232.0h7.6M220.3 254.0h7.6M234.0 237.0V259.0M230.2 237.0h7.6M230.2 259.0h7.6M243.8 242.0V264.0M240.0 242.0h7.6M240.0 264.0h7.6M253.7 246.0V268.0M249.9 246.0h7.6M249.9 268.0h7.6M263.5 250.0V272.0M259.7 250.0h7.6M259.7 272.0h7.6M273.3 255.0V277.0M269.5 255.0h7.6M269.5 277.0h7.6M283.2 257.0V279.0M279.4 257.0h7.6M279.4 279.0h7.6M293.0 257.0V279.0M289.2 257.0h7.6M289.2 279.0h7.6M302.8 261.0V283.0M299.0 261.0h7.6M299.0 283.0h7.6M312.7 265.0V287.0M308.9 265.0h7.6M308.9 287.0h7.6M322.5 268.0V290.0M318.7 268.0h7.6M318.7 290.0h7.6M332.3 272.0V294.0M328.5 272.0h7.6M328.5 294.0h7.6M342.2 276.0V298.0M338.4 276.0h7.6M338.4 298.0h7.6M352.0 285.0V307.0M348.2 285.0h7.6M348.2 307.0h7.6M361.8 291.8V314.2M358.0 291.8h7.6M358.0 314.2h7.6M371.7 296.5V319.5M367.9 296.5h7.6M367.9 319.5h7.6M381.5 304.9V329.1M377.7 304.9h7.6M377.7 329.1h7.6M391.3 320.7V347.3M387.5 320.7h7.6M387.5 347.3h7.6M401.2 331.0V359.0M397.4 331.0h7.6M397.4 359.0h7.6M411.0 341.8V378.8M407.2 341.8h7.6M407.2 378.8h7.6M420.9 345.4V385.4M417.1 345.4h7.6M417.1 385.4h7.6M430.7 351.5V397.7M426.9 351.5h7.6M426.9 397.7h7.6M440.5 358.3V413.4M436.7 358.3h7.6M436.7 413.4h7.6M450.4 366.7V433.8M446.6 366.7h7.6M446.6 433.8h7.6M489.7 379.5V471.5M485.9 379.5h7.6M485.9 471.5h7.6M499.5 379.5V471.5M495.7 379.5h7.6M495.7 471.5h7.6M509.4 388.0V506.0M505.6 388.0h7.6M519.2 388.0V506.0M515.4 388.0h7.6" fill="none" stroke="#000080" stroke-width="1" stroke-opacity="0.7"/>
<path d="M125.8 161.0V183.0M122.0 161.0h7.6M122.0 183.0h7.6M135.6 169.0V191.0M131.8 169.0h7.6M131.8 191.0h7.6M145.5 176.0V198.0M141.7 176.0h7.6M141.7 198.0h7.6M155.3 186.0V208.0M151.5 186.0h7.6M151.5 208.0h7.6M165.1 195.0V217.0M161.3 195.0h7.6M161.3 217.0h7.6M175.0 205.0V227.0M171.2 205.0h7.6M171.2 227.0h7.6M184.8 215.0V237.0M181.0 215.0h7.6M181.0 237.0h7.6M194.6 228.0V250.0M190.8 228.0h7.6M190.8 250.0h7.6M204.5 238.0V260.0M200.7 238.0h7.6M200.7 260.0h7.6M214.3 247.0V269.0M210.5 247.0h7.6M210.5 269.0h7.6M224.2 250.0V272.0M220.3 250.0h7.6M220.3 272.0h7.6M234.0 256.0V278.0M230.2 256.0h7.6M230.2 278.0h7.6M243.8 261.0V283.0M240.0 261.0h7.6M240.0 283.0h7.6M253.7 266.0V288.0M249.9 266.0h7.6M249.9 288.0h7.6M263.5 269.0V291.0M259.7 269.0h7.6M259.7 291.0h7.6M273.3 272.0V294.0M269.5 272.0h7.6M269.5 294.0h7.6M283.2 276.0V298.0M279.4 276.0h7.6M279.4 298.0h7.6M293.0 280.0V302.0M289.2 280.0h7.6M289.2 302.0h7.6M302.8 287.0V309.0M299.0 287.0h7.6M299.0 309.0h7.6M312.7 290.9V313.1M308.9 290.9h7.6M308.9 313.1h7.6M322.5 296.5V319.5M318.7 296.5h7.6M318.7 319.5h7.6M332.3 302.1V325.9M328.5 302.1h7.6M328.5 325.9h7.6M342.2 305.8V330.2M338.4 305.8h7.6M338.4 330.2h7.6M352.0 311.4V336.6M348.2 311.4h7.6M348.2 336.6h7.6M361.8 317.9V344.1M358.0 317.9h7.6M358.0 344.1h7.6M371.7 320.7V347.3M367.9 320.7h7.6M367.9 347.3h7.6M381.5 325.4V352.6M377.7 325.4h7.6M377.7 352.6h7.6M391.3 331.7V360.3M387.5 331.7h7.6M387.5 360.3h7.6M401.2 337.5V370.9M397.4 337.5h7.6M397.4 370.9h7.6M411.0 343.2V381.4M407.2 343.2h7.6M407.2 381.4h7.6M420.9 351.5V397.7M417.1 351.5h7.6M417.1 397.7h7.6M430.7 362.0V422.0M426.9 362.0h7.6M426.9 422.0h7.6M440.5 366.7V433.8M436.7 366.7h7.6M436.7 433.8h7.6M450.4 373.2V450.4M446.6 373.2h7.6M446.6 450.4h7.6M460.2 379.5V471.5M456.4 379.5h7.6M456.4 471.5h7.6M470.0 379.5V471.5M466.2 379.5h7.6M466.2 471.5h7.6M479.9 379.5V471.5M476.1 379.5h7.6M476.1 471.5h7.6M489.7 388.0V506.0M485.9 388.0h7.6" fill="none" stroke="#0072B2" stroke-width="1" stroke-opacity="0.7"/>
</g>
<rect x="86.5" y="8.2" width="629.7" height="497.8" stroke="#000" stroke-width="2.2" fill="none"/>
<path d="M86.46 506.0v6.5M86.46 8.2v6.2M106.13 506.0v6.5M106.13 8.2v6.2M125.80 506.0v12.7M125.80 8.2v12.1M145.47 506.0v6.5M145.47 8.2v6.2M165.14 506.0v6.5M165.14 8.2v6.2M184.81 506.0v6.5M184.81 8.2v6.2M204.48 506.0v6.5M204.48 8.2v6.2M224.15 506.0v12.7M224.15 8.2v12.1M243.82 506.0v6.5M243.82 8.2v6.2M263.49 506.0v6.5M263.49 8.2v6.2M283.16 506.0v6.5M283.16 8.2v6.2M302.83 506.0v6.5M302.83 8.2v6.2M322.50 506.0v12.7M322.50 8.2v12.1M342.17 506.0v6.5M342.17 8.2v6.2M361.84 506.0v6.5M361.84 8.2v6.2M381.51 506.0v6.5M381.51 8.2v6.2M401.18 506.0v6.5M401.18 8.2v6.2M420.85 506.0v12.7M420.85 8.2v12.1M440.52 506.0v6.5M440.52 8.2v6.2M460.19 506.0v6.5M460.19 8.2v6.2M479.86 506.0v6.5M479.86 8.2v6.2M499.53 506.0v6.5M499.53 8.2v6.2M519.20 506.0v12.7M519.20 8.2v12.1M538.87 506.0v6.5M538.87 8.2v6.2M558.54 506.0v6.5M558.54 8.2v6.2M578.21 506.0v6.5M578.21 8.2v6.2M597.88 506.0v6.5M597.88 8.2v6.2M617.55 506.0v12.7M617.55 8.2v12.1M637.22 506.0v6.5M637.22 8.2v6.2M656.89 506.0v6.5M656.89 8.2v6.2M676.56 506.0v6.5M676.56 8.2v6.2M696.23 506.0v6.5M696.23 8.2v6.2M715.90 506.0v12.7M715.90 8.2v12.1M86.5 506.00h-12.3M716.2 506.00h-12.3M86.5 481.52h-6.2M716.2 481.52h-6.2M86.5 467.20h-6.2M716.2 467.20h-6.2M86.5 457.03h-6.2M716.2 457.03h-6.2M86.5 449.15h-6.2M716.2 449.15h-6.2M86.5 442.71h-6.2M716.2 442.71h-6.2M86.5 437.27h-6.2M716.2 437.27h-6.2M86.5 432.55h-6.2M716.2 432.55h-6.2M86.5 428.39h-6.2M716.2 428.39h-6.2M86.5 424.67h-12.3M716.2 424.67h-12.3M86.5 400.19h-6.2M716.2 400.19h-6.2M86.5 385.87h-6.2M716.2 385.87h-6.2M86.5 375.70h-6.2M716.2 375.70h-6.2M86.5 367.82h-6.2M716.2 367.82h-6.2M86.5 361.38h-6.2M716.2 361.38h-6.2M86.5 355.94h-6.2M716.2 355.94h-6.2M86.5 351.22h-6.2M716.2 351.22h-6.2M86.5 347.06h-6.2M716.2 347.06h-6.2M86.5 343.34h-12.3M716.2 343.34h-12.3M86.5 318.86h-6.2M716.2 318.86h-6.2M86.5 304.54h-6.2M716.2 304.54h-6.2M86.5 294.37h-6.2M716.2 294.37h-6.2M86.5 286.49h-6.2M716.2 286.49h-6.2M86.5 280.05h-6.2M716.2 280.05h-6.2M86.5 274.61h-6.2M716.2 274.61h-6.2M86.5 269.89h-6.2M716.2 269.89h-6.2M86.5 265.73h-6.2M716.2 265.73h-6.2M86.5 262.01h-12.3M716.2 262.01h-12.3M86.5 237.53h-6.2M716.2 237.53h-6.2M86.5 223.21h-6.2M716.2 223.21h-6.2M86.5 213.04h-6.2M716.2 213.04h-6.2M86.5 205.16h-6.2M716.2 205.16h-6.2M86.5 198.72h-6.2M716.2 198.72h-6.2M86.5 193.28h-6.2M716.2 193.28h-6.2M86.5 188.56h-6.2M716.2 188.56h-6.2M86.5 184.40h-6.2M716.2 184.40h-6.2M86.5 180.68h-12.3M716.2 180.68h-12.3M86.5 156.20h-6.2M716.2 156.20h-6.2M86.5 141.88h-6.2M716.2 141.88h-6.2M86.5 131.71h-6.2M716.2 131.71h-6.2M86.5 123.83h-6.2M716.2 123.83h-6.2M86.5 117.39h-6.2M716.2 117.39h-6.2M86.5 111.95h-6.2M716.2 111.95h-6.2M86.5 107.23h-6.2M716.2 107.23h-6.2M86.5 103.07h-6.2M716.2 103.07h-6.2M86.5 99.35h-12.3M716.2 99.35h-12.3M86.5 74.87h-6.2M716.2 74.87h-6.2M86.5 60.55h-6.2M716.2 60.55h-6.2M86.5 50.38h-6.2M716.2 50.38h-6.2M86.5 42.50h-6.2M716.2 42.50h-6.2M86.5 36.06h-6.2M716.2 36.06h-6.2M86.5 30.62h-6.2M716.2 30.62h-6.2M86.5 25.90h-6.2M716.2 25.90h-6.2M86.5 21.74h-6.2M716.2 21.74h-6.2M86.5 18.02h-12.3M716.2 18.02h-12.3" stroke="#000" stroke-width="2.2" fill="none"/>
<text x="125.8" y="543.3" font-size="18.8" dx="0.9" text-anchor="middle" fill="#000">−30</text>
<text x="224.2" y="543.3" font-size="18.8" dx="0.9" text-anchor="middle" fill="#000">−25</text>
<text x="322.5" y="543.3" font-size="18.8" dx="0.9" text-anchor="middle" fill="#000">−20</text>
<text x="420.9" y="543.3" font-size="18.8" dx="0.9" text-anchor="middle" fill="#000">−15</text>
<text x="519.2" y="543.3" font-size="18.8" dx="0.9" text-anchor="middle" fill="#000">−10</text>
<text x="617.6" y="543.3" font-size="18.8" dx="0.9" text-anchor="middle" fill="#000">−5</text>
<text x="715.9" y="543.3" font-size="18.8" dx="0.9" text-anchor="middle" fill="#000">0</text>
<text x="64.4" y="513.2" font-size="19" text-anchor="end" fill="#000">10<tspan font-size="11.5" dy="-8.6">−4</tspan></text>
<text x="64.4" y="431.9" font-size="19" text-anchor="end" fill="#000">10<tspan font-size="11.5" dy="-8.6">−3</tspan></text>
<text x="64.4" y="350.5" font-size="19" text-anchor="end" fill="#000">10<tspan font-size="11.5" dy="-8.6">−2</tspan></text>
<text x="64.4" y="269.2" font-size="19" text-anchor="end" fill="#000">10<tspan font-size="11.5" dy="-8.6">−1</tspan></text>
<text x="64.4" y="187.9" font-size="19" text-anchor="end" fill="#000">10<tspan font-size="11.5" dy="-8.6">0</tspan></text>
<text x="64.4" y="106.6" font-size="19" text-anchor="end" fill="#000">10<tspan font-size="11.5" dy="-8.6">1</tspan></text>
<text x="64.4" y="25.2" font-size="19" text-anchor="end" fill="#000">10<tspan font-size="11.5" dy="-8.6">2</tspan></text>
<text x="413.8" y="571.3" font-size="21.8" text-anchor="middle" fill="#000">温度 (°C)</text>
<text transform="translate(19.3,259.5) rotate(-90)" font-size="18" text-anchor="middle" fill="#000" textLength="177" lengthAdjust="spacing">氷晶核個数濃度 (L<tspan font-size="11.5" dy="-7">-1</tspan><tspan dy="7">)</tspan></text>
<path d="M116.0 77.0Q126.0 79.0 132.0 90.0M108.5 94.0Q107.5 103.0 110.0 112.0M154.0 110.5Q163.0 117.5 173.0 123.0M199.5 132.5L222.0 137.0M249.5 140.5L271.0 144.0M298.0 149.5Q309.0 152.0 320.5 156.5M344.5 163.5Q356.0 168.0 366.0 174.5M386.0 189.0Q395.0 196.0 401.5 204.5M420.0 225.0Q429.0 234.0 437.0 245.0M450.0 265.0L465.0 285.0M480.0 303.0L497.5 320.5M565.0 345.5Q572.0 356.0 577.5 368.0M586.0 390.5Q591.0 401.0 595.0 413.0M602.0 437.0Q604.0 452.0 587.0 456.5M560.0 461.0L537.0 463.5M119.0 141.0Q127.0 146.0 135.0 153.0M160.0 173.0L177.0 186.0M199.0 204.0L214.0 213.0M238.0 227.0L256.5 233.0M283.0 242.0L305.5 247.5M332.0 255.5L352.5 264.0M378.0 279.0Q388.0 286.0 397.0 294.0M415.0 315.0Q422.0 322.0 428.0 331.0M443.5 353.5L457.0 373.0M470.5 397.0L482.0 414.0M498.5 437.0Q506.0 446.5 515.0 452.5" fill="none" stroke="#FF0000" stroke-width="4.8" stroke-linecap="round" stroke-linejoin="round"/>
<path d="M119.5 146.0Q115.0 156.0 117.5 168.0M135.0 159.0L152.0 174.0M174.0 191.0L189.0 203.5M212.0 215.0L232.5 222.0M259.0 234.0L278.5 244.0M304.5 249.5L326.5 257.5M351.0 271.0Q361.0 276.0 371.0 282.0M394.0 300.0Q403.0 307.0 410.0 315.0M430.0 336.0L442.5 351.5M458.0 376.0L469.0 393.0M484.0 417.0L497.0 434.0M119.0 196.0Q119.5 205.0 123.0 212.5M149.5 219.0Q157.0 226.0 165.0 230.5M182.0 250.0Q191.0 260.0 202.0 267.5M228.0 273.0Q236.0 281.0 246.0 288.0M265.0 308.0L287.5 318.0M310.0 329.0L333.0 338.0M353.5 346.5Q365.0 351.0 375.0 358.0M392.5 374.0Q401.0 381.0 407.5 390.5M427.0 415.0L441.0 430.0M467.0 450.5Q476.0 456.0 486.0 459.5" fill="none" stroke="#0000FF" stroke-width="4.8" stroke-linecap="round" stroke-linejoin="round"/>
<path d="M546.8 326.6L524.6 329.4C525.8 324.1 529.1 307.8 531.9 297.5C534.7 287.2 537.2 276.6 541.3 267.5C545.4 258.4 549.4 250.8 556.3 243.0C563.2 235.2 572.5 227.1 582.5 220.6C592.5 214.1 603.8 209.1 616.3 203.8C628.8 198.5 644.4 192.9 657.5 188.8C670.6 184.7 684.2 181.9 695.0 179.4C705.8 176.9 717.5 174.9 722.0 174.0" fill="none" stroke="#FF0000" stroke-width="4.7" stroke-linecap="round" stroke-linejoin="round"/>
<path d="M715 167.5L751.5 167.5L719.5 185.5Z" fill="#FF0000"/>
<path d="M515 458.5C519 461 521.5 465 519 469C517 472 513 472.5 514.5 473.2C518.3 473.7 528.2 474.9 537.5 476.0C546.8 477.1 559.6 478.9 570.0 479.5C580.4 480.1 588.8 480.2 600.0 479.5C611.2 478.8 625.0 477.2 637.5 475.0C650.0 472.8 662.5 468.9 675.0 466.0C687.5 463.1 700.3 460.2 712.5 457.5C724.7 454.8 742.1 451.2 748.0 450.0" fill="none" stroke="#0000FF" stroke-width="5" stroke-linecap="round" stroke-linejoin="round"/>
<path d="M739.5 441.5L776.5 442.5L744 459Z" fill="#0000FF"/>
<path d="M433.2 24.2H702M434.3 24.2V107" fill="none" stroke="#FF0000" stroke-width="3" stroke-dasharray="16.8 17" stroke-dashoffset="0"/>
<path d="M434.3 107H702" fill="none" stroke="#FF0000" stroke-width="3" stroke-dasharray="16.6 17.3" stroke-dashoffset="6.7"/>
<path d="M702 26V108.5" fill="none" stroke="#FF0000" stroke-width="3" stroke-dasharray="17 17"/>
<path d="M431 109.4H690M432.3 109.4V160" fill="none" stroke="#0000FF" stroke-width="3" stroke-dasharray="16.5 17.5"/>
<path d="M702.6 110V175" fill="none" stroke="#0000FF" stroke-width="3" stroke-dasharray="17.5 16.3"/>
<path d="M445 173.8H702" fill="none" stroke="#0000FF" stroke-width="3" stroke-dasharray="16.3 17.6"/>
<path d="M435.5 36.5H473.5" stroke="#CC79A7" stroke-width="1.6" fill="none"/>
<circle cx="454.2" cy="36.5" r="4.6" fill="#CC79A7"/>
<text x="478" y="42.7" font-size="17.35" fill="#000" xml:space="preserve">#2(8/24 17:56 - 8/26 20:20)</text>
<path d="M435.5 57.9H473.5" stroke="#E69F00" stroke-width="1.6" fill="none"/>
<circle cx="454.2" cy="57.9" r="4.6" fill="#E69F00"/>
<text x="478" y="64.1" font-size="17.35" fill="#000" xml:space="preserve">#5 (8/30 20:59 - 9/2  4:32)</text>
<path d="M435.5 79.2H473.5" stroke="#F0E442" stroke-width="1.6" fill="none"/>
<circle cx="454.2" cy="79.2" r="4.6" fill="#F0E442"/>
<text x="478" y="85.4" font-size="17.35" fill="#000" xml:space="preserve">#6 (9/2 4:59 - 9/3 20:20)</text>
<path d="M435.5 100.4H473.5" stroke="#D55E00" stroke-width="1.6" fill="none"/>
<circle cx="454.2" cy="100.4" r="4.6" fill="#D55E00"/>
<text x="478" y="106.6" font-size="17.35" fill="#000" xml:space="preserve">#8 (9/4 0:10 - 9/5 22:50)</text>
<path d="M435.5 122.0H473.5" stroke="#56B4E9" stroke-width="1.6" fill="none"/>
<path d="M454.2 115.8l5.9 10.1h-11.8z" fill="#56B4E9"/>
<text x="478" y="128.2" font-size="17.35" fill="#000" xml:space="preserve">#3 (8/26 20:56 - 8/28 20:02)</text>
<path d="M435.5 143.2H473.5" stroke="#000080" stroke-width="1.6" fill="none"/>
<path d="M454.2 137.0l5.9 10.1h-11.8z" fill="#000080"/>
<text x="478" y="149.4" font-size="17.35" fill="#000" xml:space="preserve">#10 (9/6 3:33 - 9/7 19:13)</text>
<path d="M435.5 164.3H473.5" stroke="#0072B2" stroke-width="1.6" fill="none"/>
<path d="M454.2 158.1l5.9 10.1h-11.8z" fill="#0072B2"/>
<text x="478" y="170.5" font-size="17.35" fill="#000" xml:space="preserve">#12 (9/9 22:16 - 9/11 22:29)</text>
<text x="316.5" y="43" font-size="15.5" font-weight="bold" fill="#FF0000">高濃度のケース:</text>
<text x="316.5" y="130" font-size="15.5" font-weight="bold" fill="#0000FF">低濃度のケース:</text>
<path d="M884.60 135.30L886.29 38.51A96.80 96.80 0 1 1 788.14 143.40Z" fill="#0000FF" stroke="#222" stroke-width="0.9" stroke-linejoin="round"/>
<path d="M884.60 135.30L788.14 143.40A96.80 96.80 0 0 1 795.23 98.10Z" fill="#00FFFF" stroke="#222" stroke-width="0.9" stroke-linejoin="round"/>
<path d="M868.00 117.00L779.37 78.83A96.50 96.50 0 0 1 842.37 23.96Z" fill="#FF00FF" stroke="#222" stroke-width="0.9" stroke-linejoin="round"/>
<path d="M884.60 135.30L858.41 42.11A96.80 96.80 0 0 1 884.26 38.50Z" fill="#800000" stroke="#222" stroke-width="0.9" stroke-linejoin="round"/>
<path d="M884.60 135.30L884.26 38.50A96.80 96.80 0 0 1 886.29 38.51Z" fill="#808080" stroke="#222" stroke-width="0.6" stroke-linejoin="round"/>
<path d="M891.50 408.80L891.50 313.40A95.40 95.40 0 1 1 872.15 315.38Z" fill="#0000FF" stroke="#222" stroke-width="0.9" stroke-linejoin="round"/>
<path d="M891.50 408.80L872.15 315.38A95.40 95.40 0 0 1 891.50 313.40Z" fill="#00FFFF" stroke="#222" stroke-width="0.9" stroke-linejoin="round"/>
<rect x="818.6" y="88.4" width="141.2" height="92.6" fill="#fff" stroke="#222" stroke-width="0.9"/>
<text x="889.5" y="114.2" font-size="20" font-weight="bold" text-anchor="middle" fill="#FF0000" textLength="129" lengthAdjust="spacing">氷晶核濃度が</text>
<text x="890" y="141.8" font-size="20" font-weight="bold" text-anchor="middle" fill="#FF0000" textLength="92" lengthAdjust="spacing">高いケース</text>
<text x="890" y="168.2" font-size="22" text-anchor="middle" fill="#000">n=231</text>
<rect x="828.2" y="367" width="140.9" height="92" fill="#fff" stroke="#222" stroke-width="0.9"/>
<text x="900" y="391.4" font-size="20" font-weight="bold" text-anchor="middle" fill="#0000FF" textLength="129" lengthAdjust="spacing">氷晶核濃度が</text>
<text x="900" y="419.8" font-size="20" font-weight="bold" text-anchor="middle" fill="#0000FF" textLength="92" lengthAdjust="spacing">低いケース</text>
<text x="900" y="448" font-size="22" text-anchor="middle" fill="#000">n=60</text>
<text x="775.5" y="35.6" font-size="24.6" font-weight="bold" text-anchor="middle" fill="#FF0000">14%</text>
<text x="884.8" y="27" font-size="18.5" text-anchor="middle" fill="#000">4.3%</text>
<text x="764.3" y="123" font-size="18.5" text-anchor="middle" fill="#000">7.8%</text>
<text x="972.5" y="225" font-size="18.5" text-anchor="middle" fill="#000">73%</text>
<text x="878.7" y="296" font-size="18.5" text-anchor="middle" fill="#000">3.3%</text>
<text x="903.5" y="534" font-size="18.5" text-anchor="middle" fill="#000">97%</text>
<rect x="997" y="0.6" width="41" height="20" fill="#800000" stroke="#222" stroke-width="0.9"/>
<text x="1044.6" y="17.2" font-size="18" fill="#000" textLength="73.0" lengthAdjust="spacingAndGlyphs">鉱物粒子</text>
<rect x="997" y="24.0" width="41" height="20" fill="#FF00FF" stroke="#222" stroke-width="0.9"/>
<text x="1044.6" y="40.6" font-size="18" fill="#000" textLength="154.5" lengthAdjust="spacingAndGlyphs">生物に由来する粒子</text>
<rect x="997" y="47.4" width="41" height="20" fill="#00FFFF" stroke="#222" stroke-width="0.9"/>
<text x="1044.6" y="64.0" font-size="18" fill="#000" textLength="91.5" lengthAdjust="spacingAndGlyphs">炭素質粒子</text>
<rect x="997" y="70.8" width="41" height="20" fill="#0000FF" stroke="#222" stroke-width="0.9"/>
<text x="1044.6" y="87.4" font-size="18" fill="#000" textLength="73.0" lengthAdjust="spacingAndGlyphs">海塩粒子</text>
<rect x="997" y="94.2" width="41" height="20" fill="#808080" stroke="#222" stroke-width="0.9"/>
<text x="1044.6" y="110.8" font-size="18" fill="#000" textLength="46.0" lengthAdjust="spacingAndGlyphs">その他</text>
</svg></body></html>
